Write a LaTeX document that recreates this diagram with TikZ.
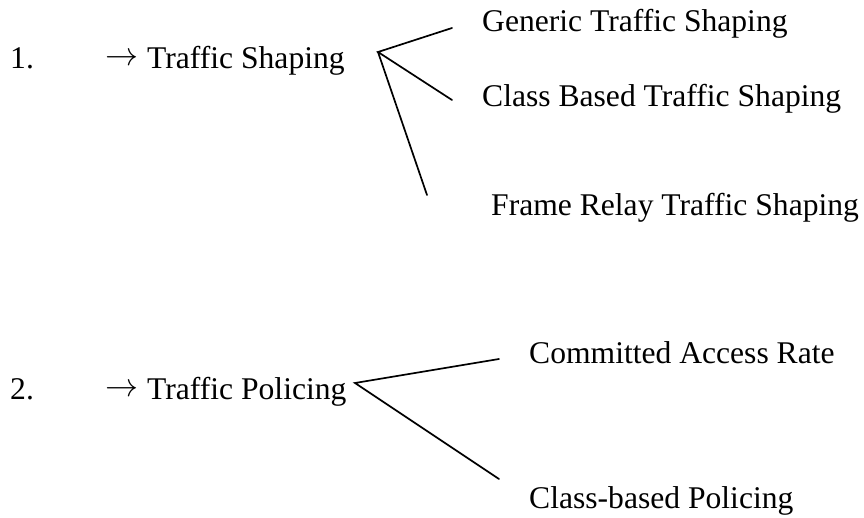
\documentclass[tikz,border=0pt]{standalone}
\usepackage{fontspec}
\setmainfont{Liberation Serif}
\newcommand{\leadarrow}{\makebox[42pt][l]{\raisebox{3pt}{\scalebox{3.3}{\fontsize{10}{12}\selectfont$\rightarrow$}}}}
\begin{document}
\begin{tikzpicture}[x=1pt,y=-1pt,
  lbl/.style={inner sep=0pt,anchor=base west,font=\fontsize{31.6}{38}\selectfont},
  branch/.style={line width=1.7pt,line cap=round,line join=miter}]
\useasboundingbox (0,0) rectangle (864,517);

% first group: traffic shaping
\node[lbl] (n1) at (10,68) {1.};
\node[lbl] (ts) at (105,68) {\leadarrow Traffic Shaping};
\node[lbl] (gts) at (482,31) {Generic Traffic Shaping};
\node[lbl] (cbts) at (482,106) {Class Based Traffic Shaping};
\node[lbl] (frts) at (491,215) {Frame Relay Traffic Shaping};

\coordinate (fork1) at (378,52);
\coordinate (e1a) at (452,28);
\coordinate (e1b) at (452,100);
\coordinate (e1c) at (427,195);
\draw[branch] (e1a) -- (fork1) -- (e1b);
\draw[branch] (fork1) -- (e1c);

% second group: traffic policing
\node[lbl] (n2) at (10,399) {2.};
\node[lbl] (tp) at (105,399) {\leadarrow Traffic Policing};
\node[lbl] (car) at (529,363) {Committed Access Rate};
\node[lbl] (cbp) at (529,508) {Class-based Policing};

\coordinate (fork2) at (355,383);
\coordinate (e2a) at (499,359);
\coordinate (e2b) at (499,479);
\draw[branch] (e2a) -- (fork2) -- (e2b);
\end{tikzpicture}
\end{document}
